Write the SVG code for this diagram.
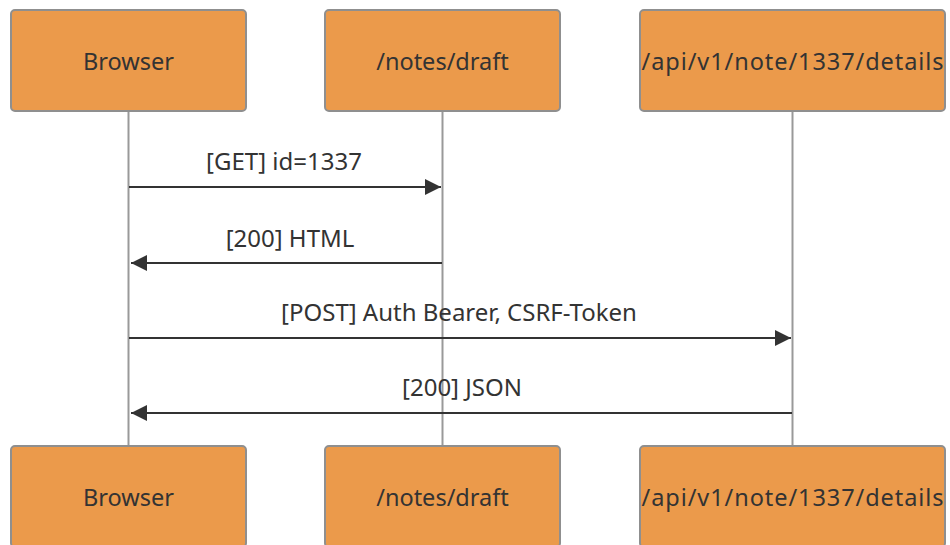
<svg xmlns="http://www.w3.org/2000/svg" width="950" height="545" viewBox="0 0 950 545">
  <style>
    .actor rect { fill: #eb9a4b; stroke: #8f8f8f; stroke-width: 2; }
    .actor text { font-family: "Noto Sans", "Liberation Sans", sans-serif; font-size: 23.5px; fill: #333333; text-anchor: middle; dominant-baseline: central; }
    .lifeline { stroke: #999999; stroke-width: 2; }
    .msg { stroke: #333333; stroke-width: 2; fill: none; }
    .msg-label { font-family: "Noto Sans", "Liberation Sans", sans-serif; font-size: 24px; fill: #333333; text-anchor: middle; dominant-baseline: central; }
  </style>
  <defs>
    <marker id="arrowhead" viewBox="0 0 12 12" refX="12" refY="6" markerWidth="8" markerHeight="8" markerUnits="strokeWidth" orient="auto">
      <path d="M0,0 L12,6 L0,12 z" fill="#333333"/>
    </marker>
  </defs>
  <rect width="950" height="545" fill="#ffffff"/>

  <!-- lifelines -->
  <g id="lifelines">
    <line class="lifeline" x1="128.5" y1="111" x2="128.5" y2="446"/>
    <line class="lifeline" x1="442.5" y1="111" x2="442.5" y2="446"/>
    <line class="lifeline" x1="792.5" y1="111" x2="792.5" y2="446"/>
  </g>

  <!-- top actors -->
  <g id="browser-top" class="actor">
    <rect x="11" y="10" width="235" height="101" rx="4"/>
    <text x="128.5" y="61">Browser</text>
  </g>
  <g id="draft-top" class="actor">
    <rect x="325" y="10" width="235" height="101" rx="4"/>
    <text x="442.5" y="61">/notes/draft</text>
  </g>
  <g id="details-top" class="actor">
    <rect x="640" y="10" width="305" height="101" rx="4"/>
    <text x="792.5" y="61" textLength="302" lengthAdjust="spacing">/api/v1/note/1337/details</text>
  </g>

  <!-- bottom actors -->
  <g id="browser-bottom" class="actor">
    <rect x="11" y="446" width="235" height="101" rx="4"/>
    <text x="128.5" y="497">Browser</text>
  </g>
  <g id="draft-bottom" class="actor">
    <rect x="325" y="446" width="235" height="101" rx="4"/>
    <text x="442.5" y="497">/notes/draft</text>
  </g>
  <g id="details-bottom" class="actor">
    <rect x="640" y="446" width="305" height="101" rx="4"/>
    <text x="792.5" y="497" textLength="302" lengthAdjust="spacing">/api/v1/note/1337/details</text>
  </g>

  <!-- messages -->
  <g id="messages">
    <line class="msg" x1="129" y1="187" x2="441" y2="187" marker-end="url(#arrowhead)"/>
    <text class="msg-label" x="284" y="160">[GET] id=1337</text>

    <line class="msg" x1="442" y1="263" x2="131" y2="263" marker-end="url(#arrowhead)"/>
    <text class="msg-label" x="290" y="237">[200] HTML</text>

    <line class="msg" x1="129" y1="338" x2="791" y2="338" marker-end="url(#arrowhead)"/>
    <text class="msg-label" x="459" y="311">[POST] Auth Bearer, CSRF-Token</text>

    <line class="msg" x1="792" y1="413" x2="131" y2="413" marker-end="url(#arrowhead)"/>
    <text class="msg-label" x="462" y="386">[200] JSON</text>
  </g>
</svg>
